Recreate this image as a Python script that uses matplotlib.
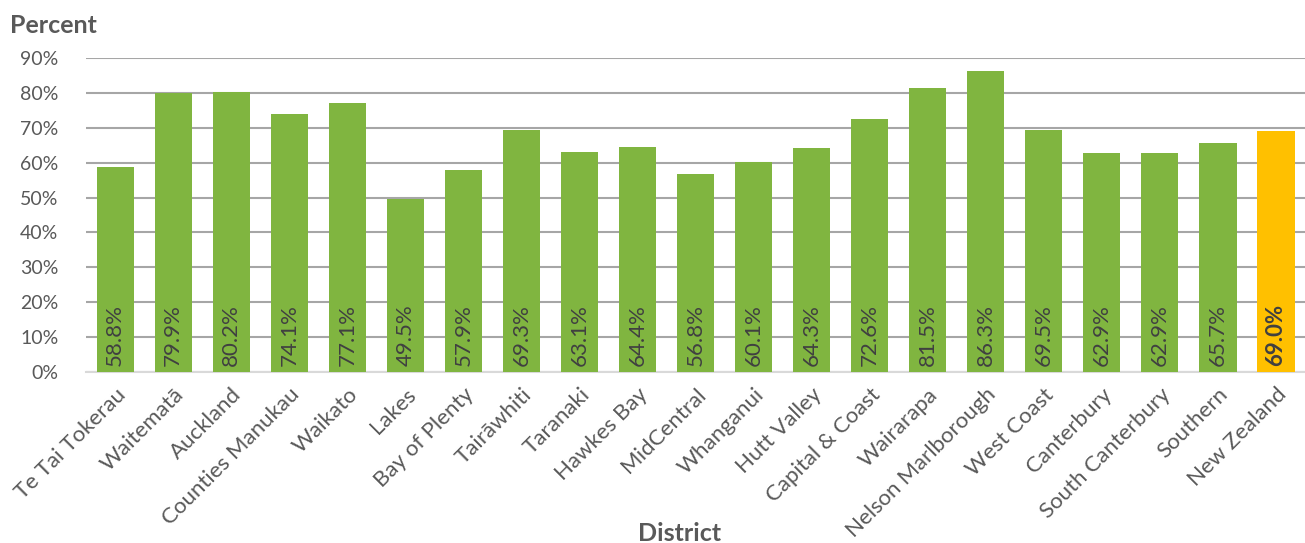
import numpy as np
import matplotlib.pyplot as plt
from matplotlib.ticker import PercentFormatter

plt.rcParams['font.family'] = ['Lato', 'DejaVu Sans']

districts = [
    "Te Tai Tokerau", "Waitematā", "Auckland", "Counties Manukau", "Waikato",
    "Lakes", "Bay of Plenty", "Tairāwhiti", "Taranaki", "Hawkes Bay",
    "MidCentral", "Whanganui", "Hutt Valley", "Capital & Coast", "Wairarapa",
    "Nelson Marlborough", "West Coast", "Canterbury", "South Canterbury",
    "Southern", "New Zealand",
]
percent = [58.8, 79.9, 80.2, 74.1, 77.1, 49.5, 57.9, 69.3, 63.1, 64.4,
           56.8, 60.1, 64.3, 72.6, 81.5, 86.3, 69.5, 62.9, 62.9, 65.7, 69.0]

GREEN = "#80B540"
GOLD = "#FFC000"
TEXT = "#595959"

fig = plt.figure(figsize=(13.05, 5.43), dpi=100)
ax = fig.add_axes([0.066, 0.315, 0.934, 0.578])

x = np.arange(len(districts))
colors = [GREEN] * (len(districts) - 1) + [GOLD]
ax.bar(x, percent, width=0.64, color=colors, zorder=3)

# value labels sit rotated at the foot of each bar
for i, v in enumerate(percent):
    last = i == len(percent) - 1
    ax.text(i, 1.8, f"{v:.1f}%", rotation=90, ha="center", va="bottom",
            fontsize=16, color="#404040",
            fontweight="bold" if last else "normal", zorder=4)

ax.set_xlim(-0.5, len(districts) - 0.5)
ax.set_ylim(0, 90)
ax.set_yticks(np.arange(0, 91, 10))
ax.yaxis.set_major_formatter(PercentFormatter(decimals=0))
ax.grid(axis="y", color="#A6A6A6", linewidth=1.5, zorder=0)

ax.set_xticks(x)
ax.set_xticklabels(districts, rotation=45, ha="right", rotation_mode="anchor",
                   fontsize=16, color=TEXT)
ax.tick_params(axis="y", labelsize=14, colors=TEXT, length=0, pad=20)
ax.tick_params(axis="x", length=0, pad=9)

for side in ["top", "right", "left"]:
    ax.spines[side].set_visible(False)
ax.spines["bottom"].set_color("#D9D9D9")
ax.spines["bottom"].set_linewidth(1.5)

fig.text(0.521, 0.018, "District", fontsize=18, fontweight="bold", color=TEXT,
         va="center", ha="center")
fig.text(0.008, 0.953, "Percent", fontsize=18, fontweight="bold", color=TEXT,
         va="center", ha="left")

fig.savefig("out.png", dpi=100)
